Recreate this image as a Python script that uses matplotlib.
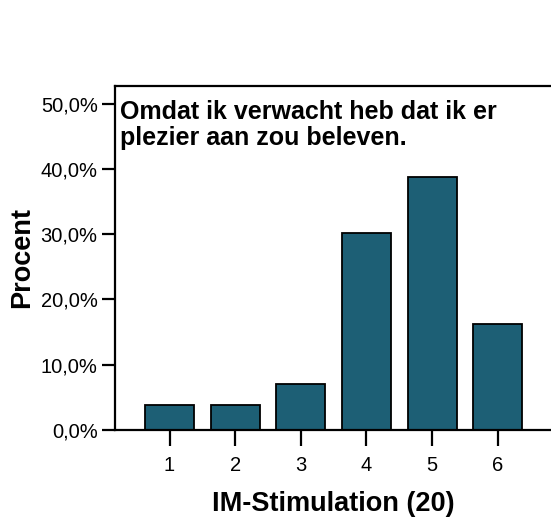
import matplotlib
matplotlib.use("Agg")
import matplotlib.pyplot as plt
from matplotlib.ticker import FuncFormatter

plt.rcParams['font.family'] = ['Liberation Sans', 'DejaVu Sans']

categories = [1, 2, 3, 4, 5, 6]
percent = [3.9, 3.9, 7.0, 30.2, 38.8, 16.2]
yticks = [0, 10, 20, 30, 40, 50]
title_text = "Omdat ik verwacht heb dat ik er\nplezier aan zou beleven."
xlabel = "IM-Stimulation (20)"
ylabel = "Procent"

W, H = 551, 520
fig = plt.figure(figsize=(W/100, H/100), dpi=100)
left, right, top, bottom = 115, 551, 86, 430
ax = fig.add_axes([left/W, (H-bottom)/H, (right-left)/W, (bottom-top)/H])

ax.bar(categories, percent, width=0.75, color='#1d5f75', edgecolor='black', linewidth=1.3, zorder=2)

ax.set_xlim(0.17, 6.81)
ax.set_ylim(0, 52.7)
ax.set_xticks(categories)
ax.set_yticks(yticks)
ax.yaxis.set_major_formatter(FuncFormatter(lambda v, p: f"{v:.1f}%".replace('.', ',')))

for s in ['left', 'bottom', 'top']:
    ax.spines[s].set_linewidth(1.6)
ax.spines['right'].set_visible(False)

ax.tick_params(axis='y', length=9.5, width=1.6, labelsize=14.5, pad=3)
ax.tick_params(axis='x', length=11.5, width=1.6, labelsize=14.5, pad=7)

ax.set_ylabel(ylabel, fontsize=19.5, fontweight='bold', labelpad=4)
ax.set_xlabel(xlabel, fontsize=19.5, fontweight='bold', labelpad=12)

ax.text(120/W, 1 - 100/H, title_text, transform=fig.transFigure, fontsize=18,
        fontweight='bold', ha='left', va='top', linespacing=1.1)

fig.savefig("out.png", dpi=100)
